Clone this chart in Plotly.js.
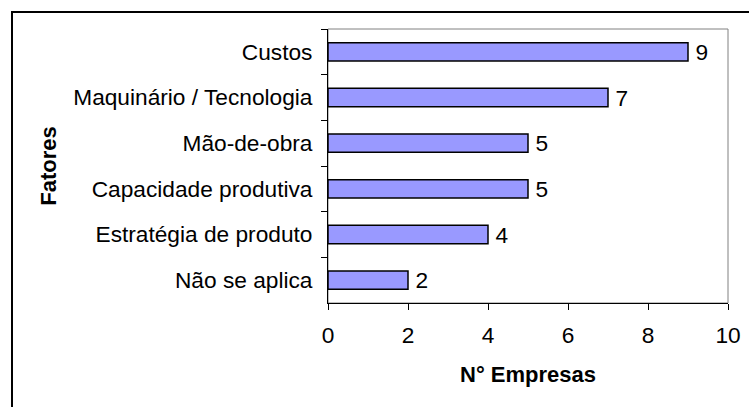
<!DOCTYPE html>
<html>
<head>
<meta charset="utf-8">
<script src="https://cdn.plot.ly/plotly-3.0.1.min.js"></script>
<style>
  html, body { margin: 0; padding: 0; overflow: hidden; background: #fff; }
  #wrap { position: relative; width: 749px; height: 407px; overflow: hidden; }
  #chart { position: absolute; left: 0; top: 0; width: 749px; height: 407px; }
  #frame { position: absolute; left: 11px; top: 11px; width: 900px; height: 600px;
           border-left: 2px solid #000; border-top: 2px solid #000; pointer-events: none; }
</style>
</head>
<body>
<div id="wrap">
  <div id="chart"></div>
  <div id="frame"></div>
</div>
<script>
const categories = ["Custos", "Maquinário / Tecnologia", "Mão-de-obra", "Capacidade produtiva", "Estratégia de produto", "Não se aplica"];
const empresas = [9, 7, 5, 5, 4, 2];
const xTicks = [0, 2, 4, 6, 8, 10];

const FONT = "'Liberation Sans', Arial, sans-serif";
const FS = 22.7;

const trace = {
  type: "bar",
  orientation: "h",
  y: categories,
  x: empresas,
  text: empresas.map(v => "\u2009" + v),
  textposition: "outside",
  constraintext: "none",
  cliponaxis: false,
  textfont: { family: FONT, size: FS, color: "#000" },
  marker: { color: "#9999FF", line: { color: "#000", width: 1.5 } },
  hoverinfo: "none"
};

const layout = {
  width: 749,
  height: 407,
  margin: { l: 328, r: 21, t: 29, b: 104 },
  paper_bgcolor: "#fff",
  plot_bgcolor: "#fff",
  showlegend: false,
  bargap: 0.6,
  font: { family: FONT, size: FS, color: "#000" },
  xaxis: {
    range: [0, 10],
    tickvals: xTicks,
    ticktext: xTicks.map(String),
    showgrid: false,
    zeroline: false,
    showline: true,
    linecolor: "#000",
    linewidth: 1,
    ticks: "outside",
    ticklen: 6,
    tickcolor: "#000",
    tickfont: { family: FONT, size: FS, color: "#000" },
    ticklabelstandoff: 6,
    title: { text: "N° Empresas", font: { family: FONT, size: 22, color: "#000", weight: "bold" }, standoff: 19 },
    fixedrange: true
  },
  yaxis: {
    autorange: "reversed",
    type: "category",
    showgrid: false,
    zeroline: false,
    showline: true,
    linecolor: "#000",
    linewidth: 1,
    ticks: "outside",
    tickson: "boundaries",
    ticklen: 6,
    tickcolor: "#000",
    tickfont: { family: FONT, size: FS, color: "#000" },
    ticklabelstandoff: 10,
    title: { text: "Fatores", font: { family: FONT, size: 22, color: "#000", weight: "bold" }, standoff: 10 },
    fixedrange: true
  },
  shapes: [
    { type: "rect", xref: "paper", yref: "paper", x0: 0, x1: 1, y0: 0, y1: 1,
      line: { color: "#808080", width: 1 }, layer: "below" }
  ]
};

Plotly.newPlot("chart", [trace], layout, { displayModeBar: false, staticPlot: true });
</script>
</body>
</html>
